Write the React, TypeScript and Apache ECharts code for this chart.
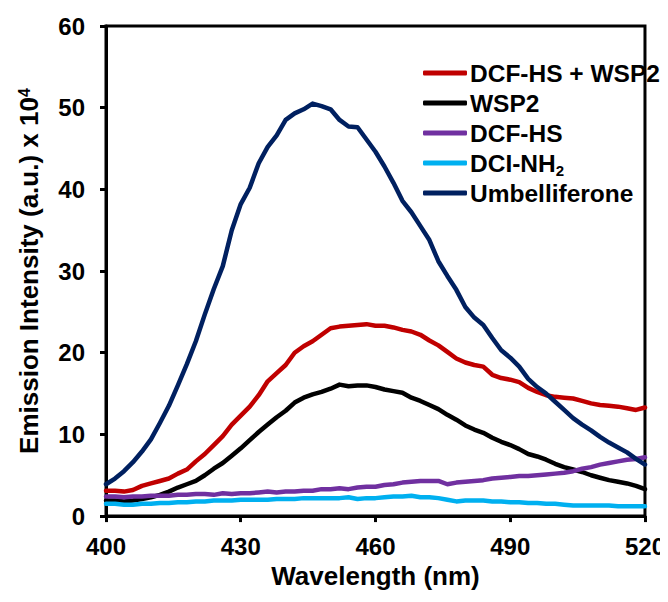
import React, { useEffect, useRef } from "react";
import * as echarts from "echarts";

const wavelengths = [400,402,404,406,408,410,412,414,416,418,420,422,424,426,428,430,432,434,436,438,440,442,444,446,448,450,452,454,456,458,460,462,464,466,468,470,472,474,476,478,480,482,484,486,488,490,492,494,496,498,500,502,504,506,508,510,512,514,516,518,520];

const dcfWsp2 = [3.1,3.1,3.0,3.2,3.7,4.0,4.3,4.6,5.2,5.7,6.7,7.6,8.7,9.8,11.2,12.3,13.4,14.8,16.5,17.5,18.5,20.0,20.8,21.4,22.2,23.0,23.2,23.3,23.4,23.5,23.3,23.3,23.1,22.8,22.6,22.2,21.5,20.9,20.1,19.3,18.8,18.5,18.3,17.3,16.9,16.7,16.4,15.7,15.2,14.8,14.6,14.5,14.4,14.1,13.8,13.6,13.5,13.4,13.2,13.0,13.3];
const wsp2 = [1.9,1.9,1.8,1.9,2.1,2.3,2.6,3.0,3.5,3.9,4.3,5.0,5.8,6.5,7.4,8.3,9.3,10.3,11.2,12.1,12.9,13.9,14.5,14.9,15.2,15.6,16.1,15.9,16.0,16.0,15.8,15.5,15.3,15.1,14.5,14.1,13.6,13.1,12.4,11.8,11.1,10.6,10.2,9.6,9.1,8.7,8.2,7.6,7.3,6.9,6.4,6.0,5.7,5.4,5.0,4.7,4.4,4.2,4.0,3.7,3.3];
const dcfHs = [2.4,2.4,2.3,2.4,2.4,2.5,2.5,2.5,2.6,2.6,2.7,2.7,2.6,2.8,2.7,2.8,2.8,2.9,3.0,2.9,3.0,3.0,3.1,3.1,3.3,3.3,3.4,3.3,3.5,3.6,3.6,3.8,3.9,4.1,4.2,4.3,4.3,4.3,3.9,4.1,4.2,4.3,4.4,4.6,4.7,4.8,4.9,4.9,5.0,5.1,5.2,5.3,5.5,5.8,6.0,6.3,6.5,6.7,6.9,7.0,7.2];
const dciNh2 = [1.5,1.5,1.4,1.4,1.5,1.5,1.6,1.6,1.7,1.7,1.8,1.8,1.9,1.9,1.9,2.0,2.0,2.0,2.0,2.1,2.1,2.1,2.2,2.2,2.2,2.2,2.2,2.3,2.1,2.2,2.2,2.3,2.4,2.4,2.5,2.3,2.3,2.2,2.0,1.8,1.9,1.9,1.9,1.8,1.8,1.7,1.7,1.6,1.6,1.5,1.5,1.4,1.3,1.3,1.3,1.3,1.3,1.2,1.2,1.2,1.2];
const umbelliferone = [3.9,4.6,5.5,6.6,7.9,9.4,11.4,13.5,16.0,18.6,21.4,24.7,27.8,30.6,35.0,38.2,40.2,43.2,45.2,46.6,48.5,49.3,49.8,50.5,50.2,49.8,48.5,47.7,47.6,46.1,44.6,42.8,40.8,38.6,37.2,35.5,33.8,31.2,29.4,27.7,25.6,24.3,23.4,21.8,20.3,19.4,18.3,16.8,15.8,15.0,14.0,13.0,12.0,11.2,10.5,9.7,9.0,8.4,7.8,7.0,6.3];

const seriesNames = ["DCF-HS + WSP2", "WSP2", "DCF-HS", "DCI-NH2", "Umbelliferone"];
const seriesValues = [dcfWsp2, wsp2, dcfHs, dciNh2, umbelliferone];
const seriesColors = ["#C00000", "#000000", "#7030A0", "#00B0F0", "#002060"];

const xTicks = [400, 430, 460, 490, 520];
const yTicks = [0, 10, 20, 30, 40, 50, 60];

const FONT = "'Liberation Sans', Arial, sans-serif";

export default function App() {
  const ref = useRef<HTMLDivElement>(null);
  useEffect(() => {
    if (!ref.current) return;
    const chart = echarts.init(ref.current, undefined, { renderer: "svg" });
    chart.setOption({
      animation: false,
      backgroundColor: "#ffffff",
      grid: {
        left: 95,
        right: 23,
        top: 18,
        bottom: 66,
        show: true,
        borderColor: "#000",
        borderWidth: 3,
      },
      legend: {
        orient: "vertical",
        left: 410,
        top: 45,
        itemWidth: 44,
        itemHeight: 5,
        itemGap: 0,
        icon: "roundRect",
        data: seriesNames,
        formatter: (name: string) => (name === "DCI-NH2" ? "DCI-NH{sub|2}" : name),
        textStyle: {
          fontFamily: FONT,
          fontWeight: "bold",
          fontSize: 24.5,
          color: "#000",
          lineHeight: 30,
          padding: [0, 0, 0, -2],
          rich: {
            sub: {
              fontFamily: FONT,
              fontWeight: "bold",
              fontSize: 15,
              color: "#000",
              verticalAlign: "bottom",
              padding: [12, 0, 0, 0],
              lineHeight: 30,
            },
          },
        },
      },
      xAxis: {
        type: "value",
        min: 400,
        max: 520,
        interval: 30,
        name: "Wavelength (nm)",
        nameLocation: "middle",
        nameGap: 42,
        nameTextStyle: {
          fontFamily: FONT,
          fontWeight: "bold",
          fontSize: 26,
          color: "#000",
        },
        axisLine: { show: true, onZero: false, lineStyle: { color: "#000", width: 3 } },
        axisTick: { show: true, inside: false, length: 6, lineStyle: { color: "#000", width: 3 } },
        splitLine: { show: false },
        axisLabel: {
          fontFamily: FONT,
          fontWeight: "bold",
          fontSize: 24,
          color: "#000",
          margin: 18,
          formatter: (v: number) => (xTicks.includes(v) ? String(v) : ""),
        },
      },
      yAxis: {
        type: "value",
        min: 0,
        max: 60,
        interval: 10,
        name: "Emission Intensity (a.u.) x 10{sup|4}",
        nameLocation: "middle",
        nameRotate: 90,
        nameGap: 64,
        nameTextStyle: {
          fontFamily: FONT,
          fontWeight: "bold",
          fontSize: 26,
          color: "#000",
          rich: {
            sup: {
              fontFamily: FONT,
              fontWeight: "bold",
              fontSize: 16,
              color: "#000",
              verticalAlign: "top",
              padding: [0, 0, 10, 0],
            },
          },
        },
        axisLine: { show: true, lineStyle: { color: "#000", width: 3 } },
        axisTick: { show: true, inside: false, length: 6, lineStyle: { color: "#000", width: 3 } },
        splitLine: { show: false },
        axisLabel: {
          fontFamily: FONT,
          fontWeight: "bold",
          fontSize: 24,
          color: "#000",
          margin: 21,
          formatter: (v: number) => (yTicks.includes(v) ? String(v) : ""),
        },
      },
      series: seriesNames.map((name, i) => ({
        name,
        type: "line",
        data: wavelengths.map((w, j) => [w, seriesValues[i][j]]),
        showSymbol: false,
        symbol: "none",
        smooth: false,
        color: seriesColors[i],
        lineStyle: { color: seriesColors[i], width: 4.5, cap: "round", join: "round" },
        z: 2 + i,
      })),
    });
    return () => chart.dispose();
  }, []);
  return <div ref={ref} style={{ width: 660, height: 586 }} />;
}
